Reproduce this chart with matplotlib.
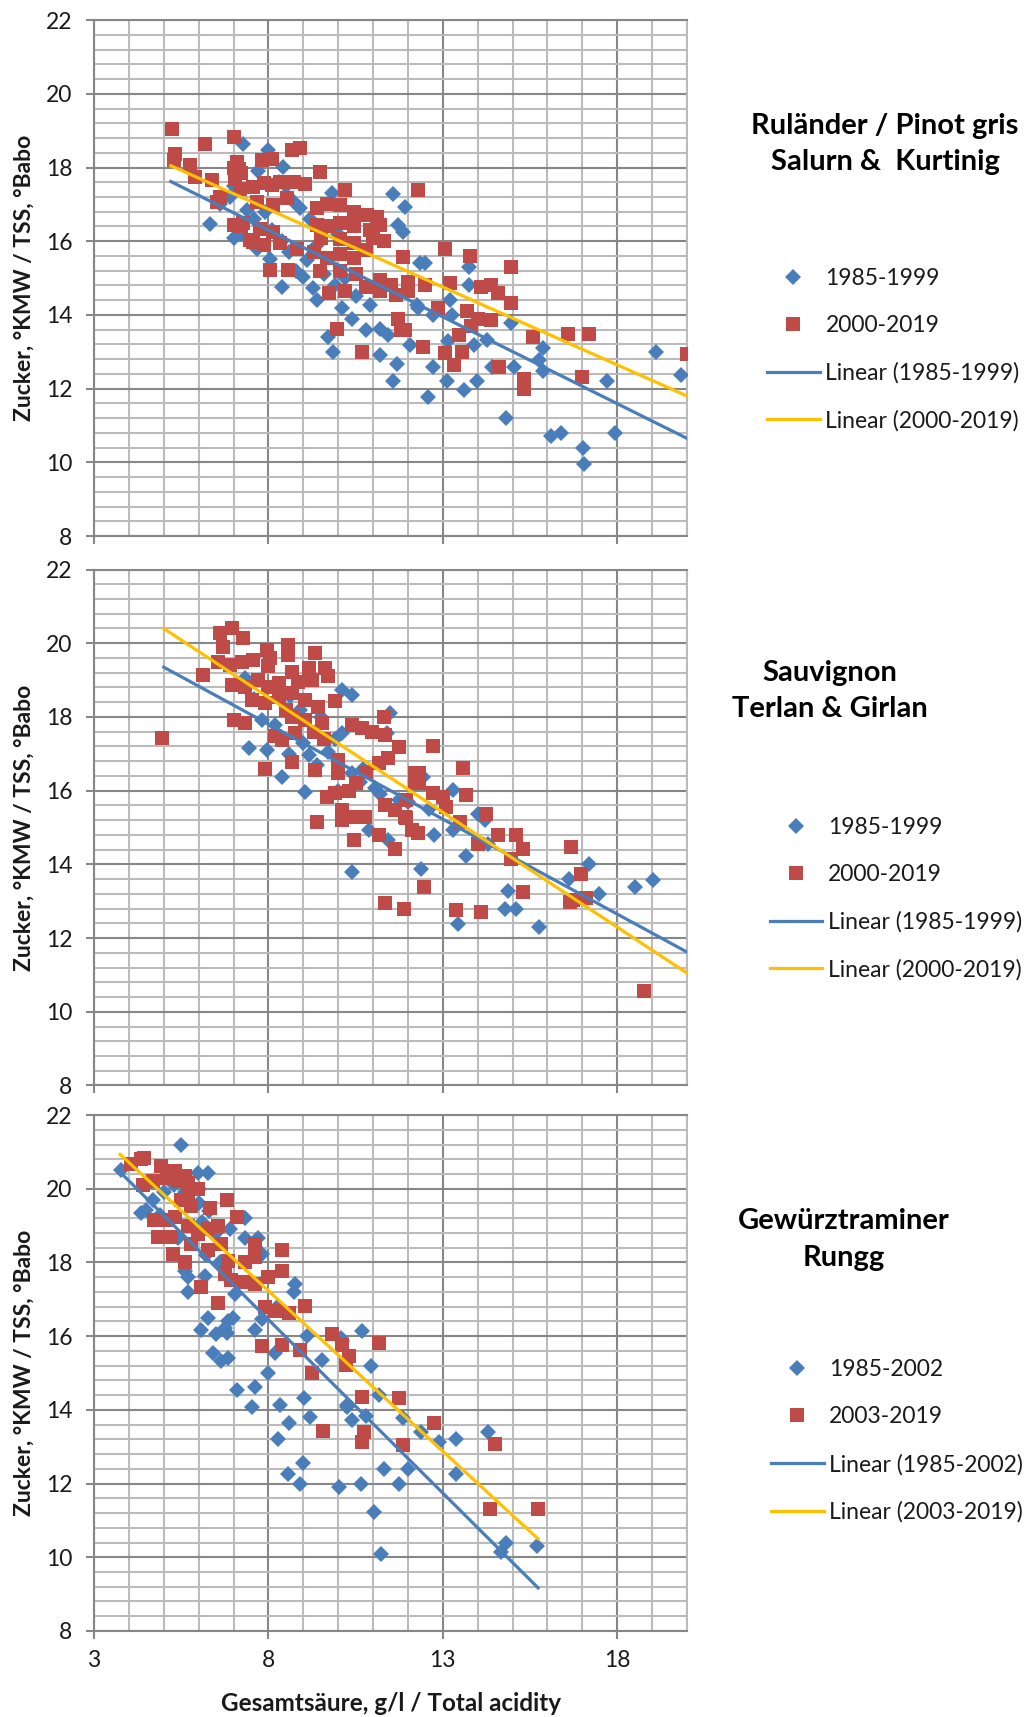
import matplotlib
matplotlib.use("Agg")
import matplotlib.pyplot as plt
from matplotlib.ticker import MultipleLocator

plt.rcParams['font.family'] = ['Lato', 'DejaVu Sans']

# --- Ruländer / Pinot gris, Salurn & Kurtinig ---
rul_old_x = [7.28, 8.0, 8.43, 6.33, 11.58, 11.92, 11.72, 11.87, 9.81, 8.9, 7.38, 7.67, 8.05, 8.38,
             9.0, 9.29, 9.38, 10.39, 10.91, 11.2, 11.44, 9.72, 9.86, 11.2, 11.68, 11.58, 12.25, 12.35,
             7.0, 7.2, 7.0, 7.6, 7.9, 8.1, 8.4, 8.6, 8.8, 9.1, 9.4, 9.6, 9.9, 10.2, 10.5, 10.1, 10.8,
             10.5, 10.0, 9.2, 8.7, 8.3, 7.7, 6.9, 6.6, 8.5,
             12.49, 13.74, 13.74, 13.2, 12.3, 12.73, 13.26, 14.95, 14.28, 13.9, 12.05, 13.16, 15.87,
             15.77, 15.87, 12.73, 14.42, 15.05, 13.12, 13.99, 13.6, 12.58, 17.7, 19.1, 19.83, 14.81,
             16.11, 16.4, 17.03, 17.93, 17.06]
rul_old_y = [18.65, 18.47, 18.02, 16.48, 17.29, 16.93, 16.43, 16.25, 17.3, 16.89, 16.84, 15.8, 15.53, 14.76,
             15.03, 14.72, 14.4, 13.9, 14.26, 13.63, 13.45, 13.4, 13.0, 12.9, 12.68, 12.2, 14.26, 15.4,
             17.5, 16.2, 16.1, 16.6, 16.8, 16.3, 16.0, 15.7, 15.2, 15.5, 15.9, 15.1, 14.8, 15.0, 14.5, 14.2, 13.6,
             16.6, 16.2, 16.6, 17.1, 17.6, 17.9, 17.2, 17.0, 17.5,
             15.41, 15.3, 14.8, 14.4, 14.2, 14.0, 14.0, 13.77, 13.32, 13.19, 13.19, 13.28, 13.1,
             12.78, 12.47, 12.6, 12.58, 12.6, 12.2, 12.2, 11.97, 11.77, 12.2, 13.0, 12.38, 11.2,
             10.71, 10.8, 10.4, 10.8, 9.95]
rul_new_x = [5.25, 5.33, 5.28, 5.75, 6.19, 6.38, 5.9, 6.52, 6.62, 7.0, 7.0, 7.1, 7.15, 7.2, 7.05,
             7.81, 8.1, 8.67, 8.9, 9.48, 10.2,
             7.19, 7.57, 7.86, 8.1, 8.33, 8.72, 9.05, 7.67, 8.14, 8.53, 7.28, 7.0, 7.2, 7.76, 8.14,
             7.47, 7.57, 7.86, 8.33, 8.81, 8.05, 8.57,
             9.38, 9.67, 10.05, 10.44, 10.82, 11.1, 9.4, 9.7, 10.05, 10.44, 10.9, 11.2,
             9.5, 10.05, 10.44, 11.0, 11.3, 9.3, 9.67, 10.05, 10.44, 10.8,
             9.48, 10.05, 10.5, 11.2, 11.5, 9.75, 10.2, 10.8, 11.2, 11.65, 12.0,
             9.96, 10.67, 11.72, 11.92, 11.87,
             12.3, 13.07, 13.77, 14.95, 13.2, 14.08, 14.37, 14.57, 14.95, 12.0, 12.5, 12.87,
             13.7, 14.0, 13.8, 14.37, 15.58, 16.6, 17.2, 20.0, 12.44, 13.45, 13.07, 13.55, 13.31,
             14.6, 15.34, 15.32, 17.0, 11.8]
rul_new_y = [19.05, 18.38, 18.2, 18.06, 18.65, 17.66, 17.75, 17.07, 17.2, 18.83, 18.0, 18.15, 17.95, 17.85, 17.7,
             18.2, 18.24, 18.47, 18.52, 17.88, 17.38,
             17.43, 17.48, 17.57, 17.52, 17.6, 17.6, 17.55, 17.07, 16.98, 17.16, 16.5, 16.43, 16.4, 16.34, 16.25,
             16.03, 15.98, 15.9, 15.94, 15.8, 15.21, 15.21,
             16.89, 17.02, 16.98, 16.8, 16.71, 16.66, 16.45, 16.4, 16.5, 16.4, 16.3, 16.45,
             16.1, 16.05, 15.95, 16.1, 16.0, 15.7, 15.55, 15.65, 15.55, 15.75,
             15.2, 15.2, 15.1, 14.95, 14.8, 14.6, 14.65, 14.75, 14.65, 14.55, 14.65,
             13.63, 13.0, 13.9, 13.58, 15.57,
             17.4, 15.78, 15.6, 15.3, 14.86, 14.77, 14.81, 14.6, 14.32, 14.9, 14.8, 14.18,
             14.1, 13.9, 13.7, 13.86, 13.41, 13.49, 13.49, 12.94, 13.14, 13.46, 12.96, 13.0, 12.65,
             12.6, 12.27, 12.0, 12.31, 13.6]
rul_trend_old_x = [5.2, 20.0]
rul_trend_old_y = [17.62, 10.65]
rul_trend_new_x = [5.2, 20.0]
rul_trend_new_y = [18.05, 11.8]

# --- Sauvignon, Terlan & Girlan ---
sau_old_x = [7.43, 7.95, 8.38, 9.05, 7.81, 8.19, 10.1, 10.39, 11.49, 9.15, 9.72, 10.1, 10.39, 10.63,
             10.87, 11.44, 10.39, 11.06, 11.73, 11.4,
             7.33, 8.62, 7.6, 8.9, 9.5, 9.9, 9.0, 8.6, 9.4, 10.7, 11.2, 10.0,
             13.29, 12.43, 14.0, 14.2, 13.29, 12.76, 14.29, 13.67, 12.38, 14.86, 14.77, 15.1, 15.77,
             13.43, 17.2, 16.63, 17.49, 18.5, 19.02, 12.0, 12.6]
sau_old_y = [17.15, 17.1, 16.38, 15.97, 17.92, 17.78, 18.73, 18.6, 18.1, 16.97, 17.06, 17.56, 16.47, 16.24,
             14.93, 14.66, 13.8, 16.06, 15.75, 17.56,
             19.05, 18.57, 18.5, 18.2, 18.0, 17.4, 17.3, 17.0, 16.7, 16.6, 15.9, 16.0,
             16.02, 16.38, 15.38, 15.2, 14.93, 14.79, 14.56, 14.22, 13.88, 13.29, 12.79, 12.79, 12.29,
             12.38, 14.02, 13.6, 13.2, 13.38, 13.58, 15.7, 15.5]
sau_new_x = [4.94, 6.13, 6.61, 6.95, 7.28, 6.71, 6.56, 6.9, 7.23, 7.57, 7.95, 8.05, 8.0, 8.57, 8.57,
             9.34, 9.15, 9.63, 9.72, 8.67, 8.86, 9.24, 6.95, 7.33, 7.71, 8.0, 8.29, 7.52, 7.9, 8.29,
             8.67, 9.05, 9.43, 9.91, 7.0, 7.33, 8.19, 8.38, 8.77, 8.67, 9.05, 9.53, 8.5, 9.3, 9.6,
             7.9, 8.67, 9.34, 10.0, 10.0, 10.39, 10.68, 10.97, 11.35, 11.3, 11.73, 11.44, 11.16,
             12.21, 12.21, 9.67, 9.91, 10.1, 10.1, 10.49, 10.78, 9.39, 10.44, 11.16, 11.64, 11.35,
             11.64, 11.92, 12.11, 11.35, 10.5, 10.8, 10.3,
             12.71, 13.57, 12.33, 12.33, 12.71, 13.0, 13.1, 13.48, 13.67, 14.24, 11.95, 11.95,
             12.28, 14.0, 14.58, 15.1, 15.29, 14.96, 16.68, 16.97, 16.73, 17.11, 16.64, 15.29,
             12.47, 11.9, 13.38, 14.08, 18.78]
sau_new_y = [17.42, 19.14, 20.27, 20.4, 20.14, 19.9, 19.5, 19.41, 19.5, 19.55, 19.82, 19.6, 19.37, 19.96, 19.68,
             19.73, 19.32, 19.32, 19.1, 19.23, 18.96, 19.0, 18.87, 18.82, 19.0, 18.82, 18.91, 18.46, 18.37, 18.55,
             18.64, 18.46, 18.28, 18.42, 17.92, 17.83, 17.47, 17.38, 17.56, 18.0, 17.92, 17.83, 18.2, 17.6, 17.4,
             16.6, 16.79, 16.56, 16.83, 16.47, 17.78, 17.69, 17.6, 17.51, 18.0, 17.19, 16.88, 16.74,
             16.47, 16.2, 15.84, 15.93, 15.47, 15.2, 15.29, 15.29, 15.16, 14.66, 14.8, 14.43, 15.61,
             15.48, 15.29, 14.93, 12.95, 16.2, 16.5, 16.0,
             17.22, 16.61, 16.47, 16.2, 15.93, 15.84, 15.56, 15.15, 15.88, 15.38, 15.75, 15.25,
             14.84, 14.56, 14.79, 14.79, 14.43, 14.15, 14.47, 13.75, 13.02, 13.1, 12.97, 13.25,
             13.38, 12.79, 12.76, 12.7, 10.56]
sau_trend_old_x = [5.0, 20.0]
sau_trend_old_y = [19.35, 11.62]
sau_trend_new_x = [5.0, 20.0]
sau_trend_new_y = [20.4, 11.05]

# --- Gewürztraminer, Rungg ---
gew_old_x = [3.77, 5.5, 5.98, 6.27, 4.49, 4.35, 5.4, 5.69, 5.6, 5.69, 6.17, 7.33, 7.33, 7.71, 7.81,
             7.04, 8.77, 8.72, 6.27, 6.08, 6.51, 6.85, 6.99, 6.8, 6.75, 7.62, 8.24, 9.1, 10.69, 6.41,
             6.65, 6.85, 8.19, 8.0, 7.09, 7.62, 9.54, 9.01, 7.52, 8.34, 10.26, 10.12, 7.81,
             4.7, 5.0, 5.3, 5.6, 6.0, 6.3, 5.8, 6.5, 6.2, 6.6, 4.9, 6.9, 6.0, 6.1,
             10.07, 10.93, 11.17, 10.26, 10.4, 10.79, 11.85, 12.38, 12.9, 13.38, 14.3, 11.32, 11.99,
             13.38, 10.64, 11.75, 10.02, 11.04, 11.23, 8.56, 8.9, 8.98, 8.27, 8.6, 9.18,
             14.67, 14.82, 15.69]
gew_old_y = [20.52, 21.2, 20.43, 20.43, 19.42, 19.33, 18.65, 17.6, 17.78, 17.19, 17.64, 19.2, 18.65, 18.65, 18.24,
             17.14, 17.42, 17.19, 16.5, 16.18, 16.05, 16.41, 16.5, 16.09, 16.23, 16.18, 16.78, 16.0, 16.14, 15.54,
             15.32, 15.41, 15.54, 15.0, 14.54, 14.63, 15.36, 14.31, 14.08, 14.13, 14.13, 15.86, 16.46,
             19.7, 19.9, 20.1, 19.9, 19.6, 19.4, 19.0, 18.8, 18.2, 18.0, 19.3, 18.9, 20.0, 19.1,
             15.95, 15.18, 14.41, 14.09, 13.73, 13.82, 13.77, 13.41, 13.14, 13.21, 13.41, 12.4, 12.4,
             12.27, 12.0, 12.0, 11.9, 11.24, 10.1, 12.25, 12.0, 12.55, 13.2, 13.65, 13.8,
             10.15, 10.4, 10.3]
gew_new_x = [4.35, 4.44, 4.06, 4.92, 5.31, 5.6, 4.4, 4.7, 5.1, 5.4, 5.7, 5.98, 5.5, 5.79, 5.69,
             6.32, 6.8, 7.09, 4.73, 5.12, 5.31, 4.83, 5.21, 5.69, 5.98, 6.27, 6.56, 5.26, 5.6, 5.79,
             6.27, 6.65, 6.85, 7.33, 7.62, 7.62, 6.75, 6.94, 6.08, 6.56, 7.33, 7.62, 8.0, 8.38, 8.38,
             7.9, 8.19, 8.58, 9.06, 7.81, 8.38, 8.9, 9.25, 9.83, 10.12, 10.31, 10.21, 10.69,
             11.17, 11.75, 12.76, 10.74, 10.69, 11.85, 14.49, 15.74, 14.34, 9.56]
gew_new_y = [20.8, 20.84, 20.66, 20.61, 20.47, 20.34, 20.1, 20.2, 20.3, 20.2, 20.15, 20.0, 19.7, 19.52, 19.8,
             19.47, 19.7, 19.24, 19.15, 19.15, 19.24, 18.69, 18.69, 19.0, 18.78, 18.92, 19.0, 18.24, 18.01, 18.51,
             18.33, 18.51, 18.05, 18.01, 18.15, 18.51, 17.69, 17.51, 17.32, 16.91, 17.46, 17.42, 17.6, 17.78, 18.33,
             16.78, 16.69, 16.64, 16.82, 15.73, 15.77, 15.63, 15.0, 16.05, 15.77, 15.45, 15.22, 14.36,
             15.82, 14.32, 13.64, 13.41, 13.14, 13.05, 13.06, 11.3, 11.3, 13.43]
gew_trend_old_x = [3.75, 15.73]
gew_trend_old_y = [20.45, 9.17]
gew_trend_new_x = [3.75, 15.73]
gew_trend_new_y = [20.93, 10.5]

panels = [
    (rul_old_x, rul_old_y, rul_new_x, rul_new_y, rul_trend_old_x, rul_trend_old_y,
     rul_trend_new_x, rul_trend_new_y, "1985-1999", "2000-2019",
     "Ruländer / Pinot gris\nSalurn &  Kurtinig"),
    (sau_old_x, sau_old_y, sau_new_x, sau_new_y, sau_trend_old_x, sau_trend_old_y,
     sau_trend_new_x, sau_trend_new_y, "1985-1999", "2000-2019",
     "Sauvignon\nTerlan & Girlan"),
    (gew_old_x, gew_old_y, gew_new_x, gew_new_y, gew_trend_old_x, gew_trend_old_y,
     gew_trend_new_x, gew_trend_new_y, "1985-2002", "2003-2019",
     "Gewürztraminer\nRungg"),
]

blue = '#4A7EBB'
red = '#BE4B48'
yellow = '#FFC000'
major_c = '#878787'
minor_c = '#BBBBBB'
txt_c = '#1A1A1A'

fig = plt.figure(figsize=(10.32, 17.17), dpi=100)

ax_bottoms = [0.6878, 0.3678, 0.0501]
title_pos = [(0.8576, 0.9160), (0.8038, 0.5976), (0.8178, 0.2782)]
legend_pos = [(0.7432, 0.7964), (0.7457, 0.4767), (0.7470, 0.1607)]

for i, p in enumerate(panels):
    ox, oy, nx_, ny_, tox, toy, tnx, tny, lab_old, lab_new, title = p
    ax = fig.add_axes([0.0911, ax_bottoms[i], 0.5746, 0.3005])

    h1, = ax.plot(ox, oy, ls='none', marker='D', ms=8.3, mew=0, color=blue, zorder=3)
    h2, = ax.plot(nx_, ny_, ls='none', marker='s', ms=10.5, mew=0, color=red, zorder=4)
    h3, = ax.plot(tox, toy, color=blue, lw=2.3, zorder=5)
    h4, = ax.plot(tnx, tny, color=yellow, lw=2.3, zorder=6)

    ax.set_xlim(3, 20)
    ax.set_ylim(8, 22)
    ax.set_xticks([3, 8, 13, 18])
    ax.xaxis.set_minor_locator(MultipleLocator(1))
    ax.yaxis.set_major_locator(MultipleLocator(2))
    ax.yaxis.set_minor_locator(MultipleLocator(0.4))
    ax.set_axisbelow(True)
    ax.grid(which='minor', color=minor_c, lw=1.5)
    ax.grid(which='major', color=major_c, lw=1.5)
    ax.tick_params(which='major', direction='out', length=5.5, width=1.5, color=major_c,
                   labelsize=16.5, labelcolor=txt_c)
    ax.tick_params(axis='y', which='major', pad=10)
    ax.tick_params(axis='x', which='major', pad=8)
    ax.tick_params(which='minor', length=0)
    for s in ['left', 'bottom', 'top']:
        ax.spines[s].set_color(major_c)
        ax.spines[s].set_linewidth(1.5)
    ax.spines['right'].set_color(minor_c)
    ax.spines['right'].set_linewidth(1.5)

    ax.set_ylabel("Zucker, °KMW / TSS, °Babo", fontsize=16.5, fontweight='bold', color=txt_c)
    ax.yaxis.set_label_coords(-0.100, 0.5)
    if i < 2:
        ax.tick_params(axis='x', labelbottom=False)
    else:
        ax.set_xlabel("Gesamtsäure, g/l / Total acidity", fontsize=17.5, fontweight='bold', color=txt_c)
        ax.xaxis.set_label_coords(0.5, -0.118)

    fig.text(title_pos[i][0], title_pos[i][1], title, ha='center', va='center',
             fontsize=21, fontweight='bold', color='black', linespacing=1.5)

    ax.legend([h1, h2, h3, h4], [lab_old, lab_new, "Linear (%s)" % lab_old, "Linear (%s)" % lab_new],
              loc='center left', bbox_to_anchor=legend_pos[i], bbox_transform=fig.transFigure,
              frameon=False, borderpad=0, borderaxespad=0, handlelength=2.3, handletextpad=0.25,
              labelspacing=1.14, fontsize=16.5, labelcolor=txt_c)

fig.savefig('out.png', dpi=100)
